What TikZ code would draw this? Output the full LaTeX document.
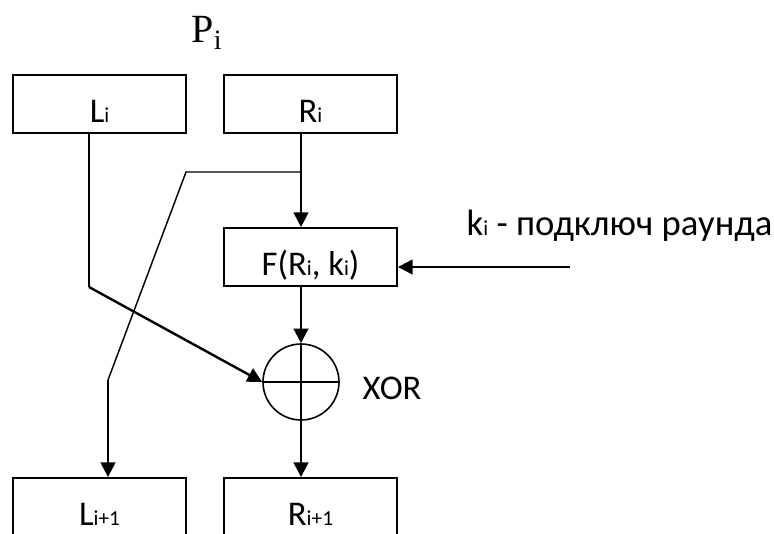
\documentclass[tikz,border=0pt]{standalone}
\usepackage{fontspec}
\setmainfont{Carlito}
\newfontfamily\serif{Liberation Serif}
\usetikzlibrary{arrows.meta, positioning}
\newcommand{\lo}[1]{{\fontsize{16}{18}\selectfont #1}}

\begin{document}
\begin{tikzpicture}[
  x=0.75pt, y=-0.75pt, font=\fontsize{26}{30}\selectfont,
  b/.style={rectangle, draw, line width=1.4pt, minimum width=129.75pt,
            minimum height=43.5pt, text height=28pt, text depth=0pt},
  thn/.style={line width=1.1pt},
  ar/.style={-{Triangle[length=11pt, width=11pt]}, line width=1.8pt}]
\clip (0,0) rectangle (774,533);
\useasboundingbox (0,0) rectangle (774,533);
\node[font=\serif\fontsize{30}{34}\selectfont, anchor=base west] (p) at (187,42) {P\textsubscript{i}};
\node[b] (li) at (99.5,104) {L\lo{i}};
\node[b] (ri) at (310.5,104) {R\lo{i}};
\node[b] (f) at (310.5,257) {F(R\lo{i}, k\lo{i})};
\node[circle, draw, line width=1.2pt, minimum size=57pt, inner sep=0pt] (xor) at (301,382) {};
\node[b] (li1) at (99.5,507) {L\lo{i+1}};
\node[b] (ri1) at (310.5,507) {R\lo{i+1}};
\node[anchor=base west, font=\fontsize{27.5}{32}\selectfont] (key) at (462,235) {k\lo{i} - подключ раунда};
\node[anchor=base west] (xl) at (358,399) {XOR};
% XOR cross
\draw[line width=1.2pt] (xor.north) -- (xor.south) (xor.west) -- (xor.east);
% L_i to XOR
\coordinate (lturn) at (89,287);
\draw[thn] (li.south -| lturn) -- (lturn);
\draw[ar] (lturn) -- (xor.west);
% R_i to F and fork to L_{i+1}
\coordinate (fork) at (301,172);
\coordinate (kink) at (186,172);
\coordinate (lbend) at (108,380);
\draw[ar] (ri.south -| xor) -- (f.north -| xor);
\draw[thn] (fork) -- (kink) -- (lbend);
\draw[ar] (lbend) -- (li1.north -| lbend);
\draw[ar] (f.south -| xor) -- (xor.north);
\draw[ar] (xor.south) -- (ri1.north -| xor);
% round key
\coordinate (kin) at (570,267);
\draw[ar] (kin) -- (f.east |- kin);
\end{tikzpicture}
\end{document}
